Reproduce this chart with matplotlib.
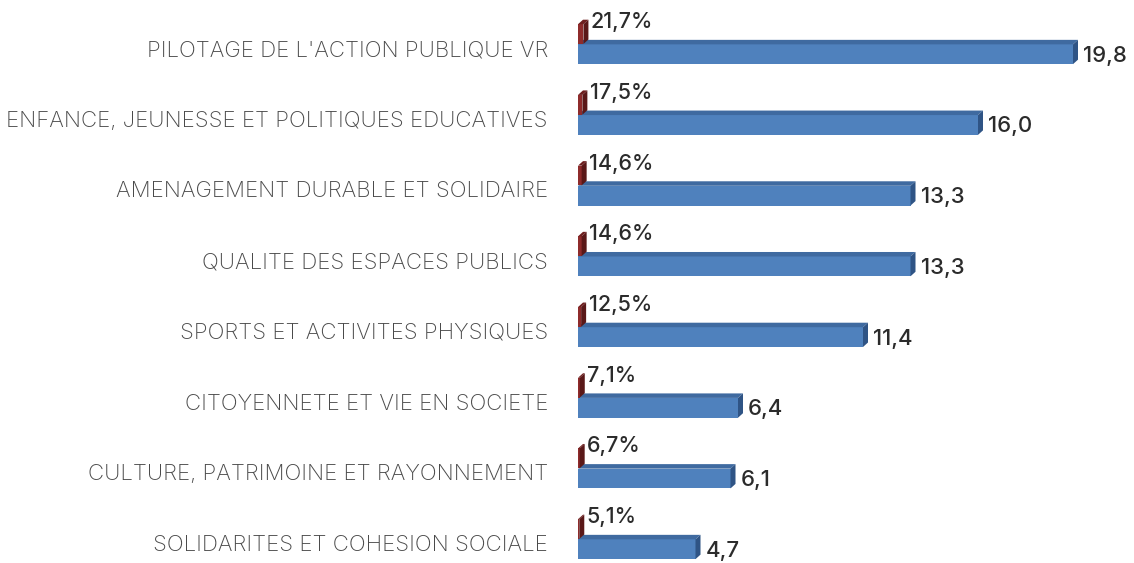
import matplotlib.pyplot as plt
from matplotlib.patches import Polygon

categories = [
    "PILOTAGE DE L'ACTION PUBLIQUE VR",
    "ENFANCE, JEUNESSE ET POLITIQUES EDUCATIVES",
    "AMENAGEMENT DURABLE ET SOLIDAIRE",
    "QUALITE DES ESPACES PUBLICS",
    "SPORTS ET ACTIVITES PHYSIQUES",
    "CITOYENNETE ET VIE EN SOCIETE",
    "CULTURE, PATRIMOINE ET RAYONNEMENT",
    "SOLIDARITES ET COHESION SOCIALE",
]
values = [19.8, 16.0, 13.3, 13.3, 11.4, 6.4, 6.1, 4.7]
shares = [0.217, 0.175, 0.146, 0.146, 0.125, 0.071, 0.067, 0.051]

W, H = 1134, 563
fig = plt.figure(figsize=(W / 100, H / 100), dpi=100)
fig.patch.set_facecolor('white')
x0 = 578
ax = fig.add_axes([x0 / W, 0, (W - x0) / W, 1])
px_x = 25.0          # pixels par unite
px_y = 70.7          # pixels par categorie
ax.set_xlim(0, (W - x0) / px_x)
ax.set_ylim(7 + 18 / px_y, -50 / px_y)
ax.axis('off')

h = 0.28
dx = 5 / px_x
dy = 4.5 / px_y
blue = ['#4F81BD', '#3F6AA0', '#2F5485']
red = ['#8E2B2B', '#6E1F1F', '#5A1818']


def bar3d(w, c, col):
    top = c - h / 2
    bot = c + h / 2
    ax.add_patch(Polygon([(0, bot), (0, top), (w, top), (w, bot)], closed=True,
                         facecolor=col[0], edgecolor='none'))
    ax.add_patch(Polygon([(0, top), (w, top), (w + dx, top - dy), (dx, top - dy)],
                         closed=True, facecolor=col[1], edgecolor='none'))
    ax.add_patch(Polygon([(w, top), (w, bot), (w + dx, bot - dy), (w + dx, top - dy)],
                         closed=True, facecolor=col[2], edgecolor='none'))


font = 'Inter'
for i, (name, v, s) in enumerate(zip(categories, values, shares)):
    cb = i + 0.06
    cr = cb - h - 0.005
    bar3d(v, cb, blue)
    bar3d(s, cr, red)
    ax.text(v + dx + 0.2, cb + 0.02, f"{v:.1f}".replace('.', ','), va='center', ha='left',
            fontsize=16, color='#2b2b2b', family=font, fontweight='medium')
    ax.text(s + dx + 0.1, cr - 0.17, f"{s * 100:.1f}%".replace('.', ','), va='center',
            ha='left', fontsize=15.5, color='#2b2b2b', family=font, fontweight='medium')
    fig.text(548 / W, 1 - (50 + i * px_y) / H, name, ha='right', va='center',
             fontsize=16, color='#4a4a4a', family=font, fontweight='light')

fig.savefig('out.png', dpi=100)
